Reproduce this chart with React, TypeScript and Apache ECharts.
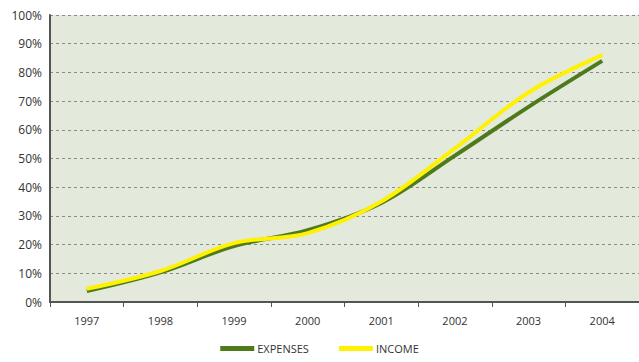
import React, { useEffect, useRef } from "react";
import * as echarts from "echarts";

const years = ["1997", "1998", "1999", "2000", "2001", "2002", "2003", "2004"];
const expenses = [3.8, 10.3, 19.5, 25, 34.5, 51, 68, 84];
const income = [4.6, 10.8, 20.5, 24, 35, 53.5, 73, 86];
const yTicks = [0, 10, 20, 30, 40, 50, 60, 70, 80, 90, 100];

export default function App() {
  const ref = useRef<HTMLDivElement>(null);
  useEffect(() => {
    const chart = echarts.init(ref.current!, null, { renderer: "svg" });
    const font = "'Open Sans', 'DejaVu Sans', sans-serif";
    chart.setOption({
      animation: false,
      grid: {
        left: 50,
        top: 15,
        width: 592,
        height: 287,
        show: true,
        backgroundColor: "#e3e9db",
        borderWidth: 0,
      },
      legend: {
        bottom: 3,
        left: "center",
        itemWidth: 34,
        itemHeight: 5,
        itemGap: 30,
        icon: "rect",
        textStyle: { fontFamily: font, fontSize: 11, color: "#333", padding: [0, 0, 0, -2] },
        data: ["EXPENSES", "INCOME"],
      },
      xAxis: {
        type: "category",
        data: years,
        boundaryGap: true,
        axisLine: { lineStyle: { color: "#555", width: 2 } },
        axisTick: { show: true, length: 5, lineStyle: { color: "#555", width: 1 } },
        axisLabel: { fontFamily: font, fontSize: 11, color: "#333", margin: 13 },
        splitLine: { show: false },
      },
      yAxis: {
        type: "value",
        min: 0,
        max: 100,
        interval: 10,
        axisLine: { show: true, lineStyle: { color: "#555", width: 2 } },
        axisTick: { show: false },
        axisLabel: {
          fontFamily: font,
          fontSize: 12,
          color: "#333",
          margin: 8,
          formatter: (v: number) => (yTicks.includes(v) ? v + "%" : ""),
        },
        splitLine: { show: true, lineStyle: { color: "#8a8a8a", type: [3, 3], width: 1 } },
      },
      series: [
        {
          name: "EXPENSES",
          type: "line",
          data: expenses,
          smooth: 0.35,
          symbol: "none",
          itemStyle: { color: "#4e7a1c" },
          lineStyle: { color: "#4e7a1c", width: 4 },
        },
        {
          name: "INCOME",
          type: "line",
          data: income,
          smooth: 0.35,
          symbol: "none",
          itemStyle: { color: "#fff200" },
          lineStyle: { color: "#fff200", width: 4 },
        },
      ],
    });
    return () => chart.dispose();
  }, []);
  return (
    <div
      ref={ref}
      style={{ position: "fixed", left: 0, top: 0, width: 639, height: 362, background: "#fff" }}
    />
  );
}
